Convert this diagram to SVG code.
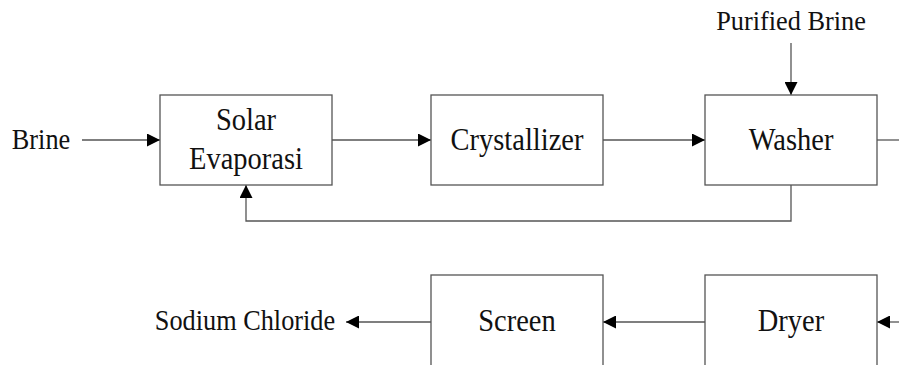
<svg xmlns="http://www.w3.org/2000/svg" width="899" height="365" viewBox="0 0 899 365">
<defs>
<marker id="arr" markerUnits="userSpaceOnUse" markerWidth="13" markerHeight="13" refX="13" refY="6.5" orient="auto">
<path d="M0,0 L13,6.5 L0,13 z" fill="#000"/>
</marker>
<style>
.box{fill:#fff;stroke:#555;stroke-width:1.3}
.ln{fill:none;stroke:#555;stroke-width:1.3}
.t{font-family:"Liberation Serif","Times New Roman",serif;fill:#111;text-anchor:middle}
.bt{font-size:28.5px}
.lt{font-size:26.3px}
</style>
</defs>
<rect width="899" height="365" fill="#fff"/>
<g id="connectors">
<line class="ln" x1="82" y1="140" x2="160" y2="140" marker-end="url(#arr)"/>
<line class="ln" x1="332" y1="140" x2="431" y2="140" marker-end="url(#arr)"/>
<line class="ln" x1="603" y1="140" x2="705" y2="140" marker-end="url(#arr)"/>
<line class="ln" x1="791" y1="43" x2="791" y2="95" marker-end="url(#arr)"/>
<polyline class="ln" points="791,185 791,221 246,221 246,185" marker-end="url(#arr)"/>
<line class="ln" x1="877" y1="140" x2="899" y2="140"/>
<line class="ln" x1="899" y1="322" x2="877" y2="322" marker-end="url(#arr)"/>
<line class="ln" x1="705" y1="322" x2="603" y2="322" marker-end="url(#arr)"/>
<line class="ln" x1="431" y1="322" x2="346" y2="322" marker-end="url(#arr)"/>
</g>
<g id="brine"><text class="t lt" transform="translate(41,149.3) scale(1,1.12)">Brine</text></g>
<g id="purified-brine"><text class="t lt" transform="translate(791,30) scale(1,1.05)">Purified Brine</text></g>
<g id="solar-evaporasi">
<rect class="box" x="160" y="95" width="172" height="90"/>
<text class="t bt" transform="translate(246,130) scale(1,1.1)">Solar</text>
<text class="t bt" transform="translate(246,169.3) scale(1,1.1)">Evaporasi</text>
</g>
<g id="crystallizer">
<rect class="box" x="431" y="95" width="172" height="90"/>
<text class="t bt" transform="translate(517,149.5) scale(1,1.1)">Crystallizer</text>
</g>
<g id="washer">
<rect class="box" x="705" y="95" width="172" height="90"/>
<text class="t bt" transform="translate(791,150) scale(1,1.12)">Washer</text>
</g>
<g id="screen">
<rect class="box" x="431" y="275" width="172" height="100"/>
<text class="t bt" transform="translate(517,330.5) scale(1,1.1)">Screen</text>
</g>
<g id="dryer">
<rect class="box" x="705" y="275" width="172" height="100"/>
<text class="t bt" transform="translate(791,330.5) scale(1,1.1)">Dryer</text>
</g>
<g id="sodium-chloride"><text class="t lt" transform="translate(245,330) scale(1,1.1)">Sodium Chloride</text></g>
</svg>
